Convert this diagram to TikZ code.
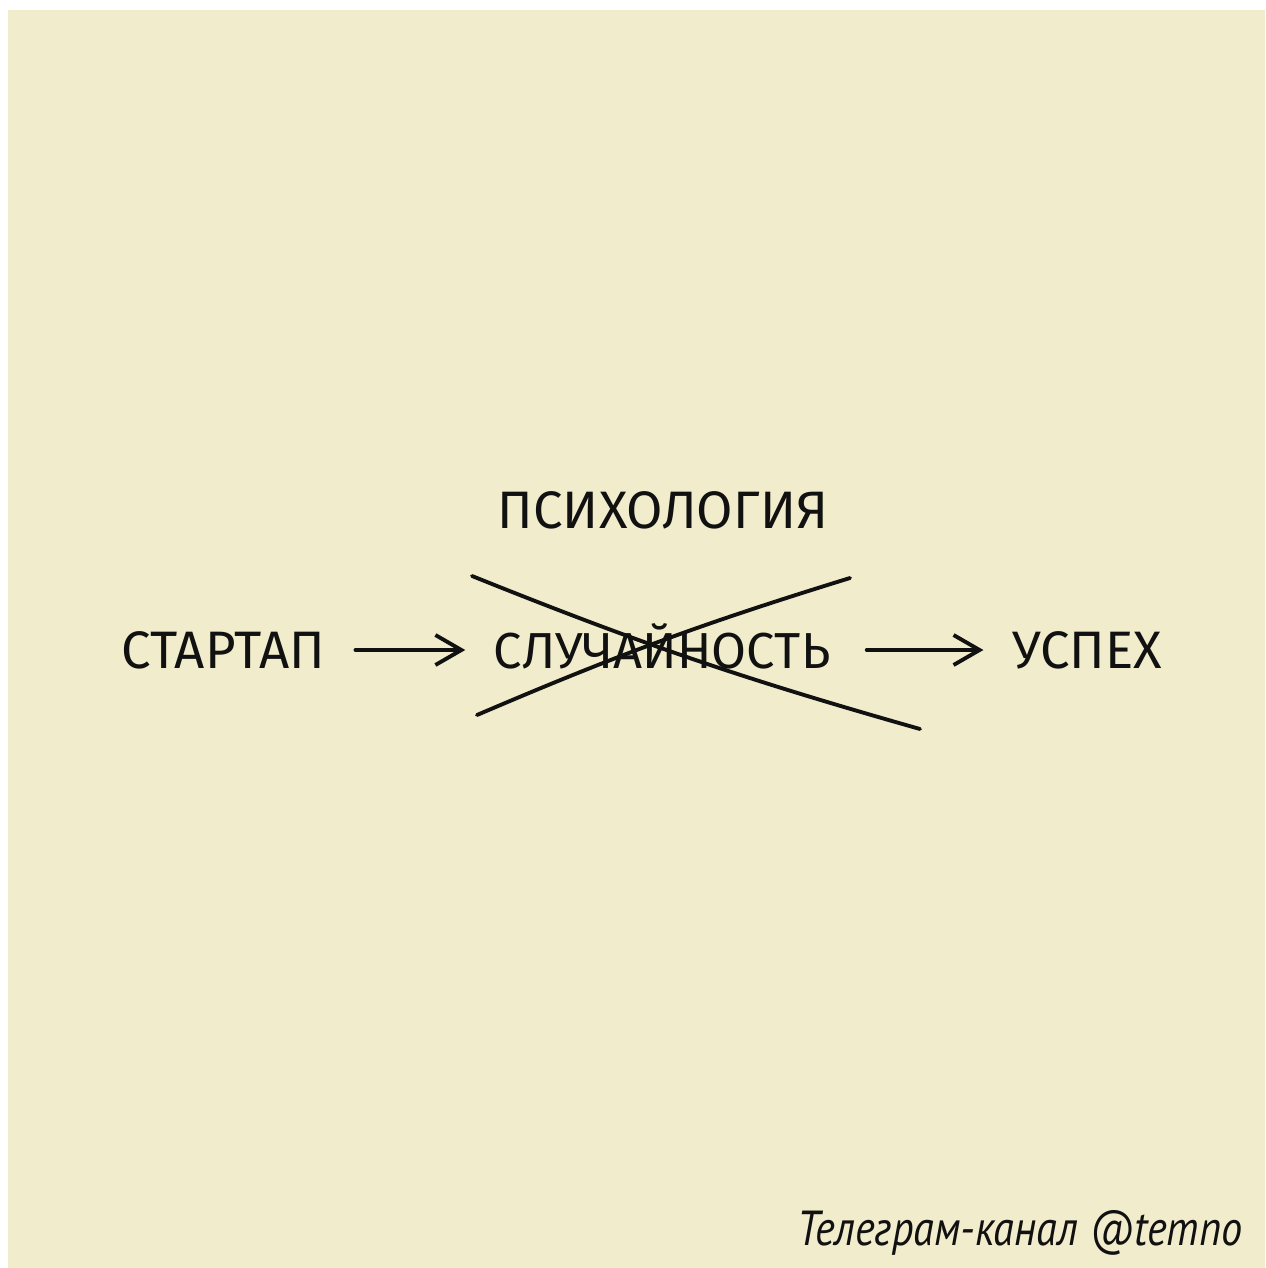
\documentclass[tikz,border=0pt]{standalone}
\usepackage{fontspec}
\setmainfont{Fira Sans}
\newfontfamily\signfont{PT Sans}
\usepackage{tikz}
\usetikzlibrary{arrows.meta}
\definecolor{paper}{HTML}{F1ECCB}
\definecolor{ink}{HTML}{111111}
\tikzset{
  word/.style={text=ink, font=\fontsize{15}{18}\selectfont, inner sep=0pt,
    text height=3.6mm, text depth=0pt, anchor=base},
  pen/.style={draw=ink, line width=1.1pt, line cap=round},
  arr/.style={pen, -{Straight Barb[length=2.6mm, width=3mm, line width=1.1pt]}},
  sign/.style={text=ink, font=\signfont\itshape\fontsize{14}{16}\selectfont,
    inner sep=0pt, anchor=base east, xscale=0.86, transform shape}
}
\begin{document}
\begin{tikzpicture}[x=0.1mm, y=-0.1mm]
\useasboundingbox (0,0) rectangle (1265,1268);
\fill[white] (0,0) rectangle (1265,1268);
\fill[paper] (8,10) rectangle (1265,1268);
% words
\node[word] (start) at (223,668) {СТАРТАП};
\node[word, font=\fontsize{14.4}{18}\selectfont] (chance) at (662,668) {СЛУЧАЙНОСТЬ};
\node[word] (psych) at (663,528) {ПСИХОЛОГИЯ};
\node[word] (success) at (1087,668) {УСПЕХ};
% arrows
\draw[arr, shorten <=3mm, shorten >=2.8mm] (start) -- (chance);
\draw[arr, shorten <=3.6mm, shorten >=2.8mm] (chance) -- (success);
% cross over the middle word
\coordinate (c1) at (472,576);
\coordinate (c2) at (920,729);
\coordinate (c3) at (477,715);
\coordinate (c4) at (850,578);
\draw[pen] (c1) to[bend right=3] (c2);
\draw[pen] (c3) to[bend left=3] (c4);
\node[sign] (tg) at (1243,1245) {Телеграм-канал @temno};
\end{tikzpicture}
\end{document}
